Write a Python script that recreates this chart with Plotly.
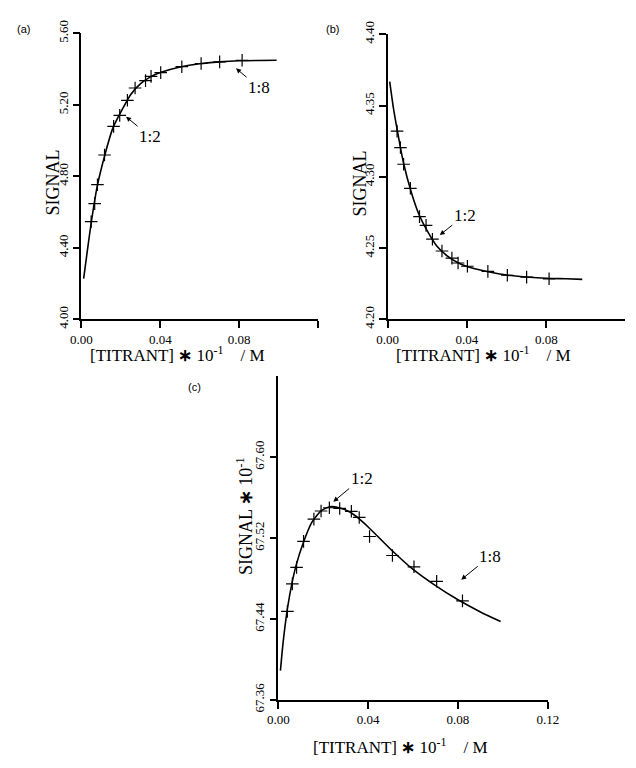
import plotly.graph_objects as go

# ---------------- data ----------------
# Panel (a)
a_x = [0.0049, 0.0067, 0.0081, 0.0117, 0.0163, 0.0194, 0.0233, 0.0272, 0.0325, 0.0353, 0.0402, 0.0509, 0.0607, 0.0701, 0.0815]
a_y = [4.546, 4.647, 4.753, 4.919, 5.079, 5.141, 5.225, 5.294, 5.335, 5.359, 5.380, 5.413, 5.431, 5.440, 5.449]
a_fit_x = [0.0011, 0.003, 0.005, 0.008, 0.012, 0.016, 0.020, 0.025, 0.030, 0.035, 0.040, 0.050, 0.060, 0.070, 0.080, 0.090, 0.099]
a_fit_y = [4.227, 4.385, 4.545, 4.745, 4.925, 5.072, 5.160, 5.258, 5.318, 5.356, 5.380, 5.411, 5.430, 5.440, 5.446, 5.448, 5.449]

# Panel (b)
b_x = [0.0048, 0.0065, 0.0081, 0.0115, 0.0161, 0.0194, 0.0226, 0.0274, 0.0324, 0.0355, 0.0402, 0.0505, 0.0603, 0.0700, 0.0813]
b_y = [4.3320, 4.3205, 4.3088, 4.2919, 4.2720, 4.2659, 4.2562, 4.2479, 4.2429, 4.2395, 4.2372, 4.2336, 4.2309, 4.2296, 4.2284]
b_fit_x = [0.0011, 0.003, 0.005, 0.008, 0.012, 0.016, 0.020, 0.025, 0.030, 0.035, 0.040, 0.050, 0.060, 0.070, 0.080, 0.090, 0.098]
b_fit_y = [4.3668, 4.3480, 4.3320, 4.3100, 4.2890, 4.2730, 4.2620, 4.2510, 4.2445, 4.2400, 4.2370, 4.2335, 4.2310, 4.2297, 4.2288, 4.2284, 4.2280]

# Panel (c)
c_x = [0.0040, 0.0062, 0.0081, 0.0112, 0.0158, 0.0190, 0.0227, 0.0273, 0.0325, 0.0360, 0.0406, 0.0508, 0.0604, 0.0705, 0.0820]
c_y = [67.4476, 67.4747, 67.4910, 67.5168, 67.5388, 67.5468, 67.5500, 67.5493, 67.5465, 67.5404, 67.5216, 67.5028, 67.4916, 67.4773, 67.4579]
c_fit_x = [0.0009, 0.002, 0.004, 0.006, 0.008, 0.011, 0.015, 0.019, 0.023, 0.027, 0.032, 0.036, 0.040, 0.050, 0.060, 0.070, 0.080, 0.090, 0.099]
c_fit_y = [67.389, 67.415, 67.450, 67.475, 67.494, 67.515, 67.536, 67.547, 67.551, 67.550, 67.5455, 67.539, 67.531, 67.509, 67.489, 67.473, 67.459, 67.447, 67.4375]

# tick labels
x_ticks_ab = [0.0, 0.04, 0.08]
x_ticktext_ab = ["0.00", "0.04", "0.08"]
x_ticks_c = [0.0, 0.04, 0.08, 0.12]
x_ticktext_c = ["0.00", "0.04", "0.08", "0.12"]
a_yticks = [4.00, 4.40, 4.80, 5.20, 5.60]
b_yticks = [4.20, 4.25, 4.30, 4.35, 4.40]
c_yticks = [67.36, 67.44, 67.52, 67.60]

W, H = 636, 768
def px(v):
    return v / W
def py(v):
    return 1 - v / H

SERIF = "Liberation Serif"
SANS = "Liberation Sans"

fig = go.Figure()

panels = [
    ("x", "y", a_x, a_y, a_fit_x, a_fit_y),
    ("x2", "y2", b_x, b_y, b_fit_x, b_fit_y),
    ("x3", "y3", c_x, c_y, c_fit_x, c_fit_y),
]
for xa, ya, xs, ys, fx, fy in panels:
    fig.add_trace(go.Scatter(x=fx, y=fy, mode="lines", line=dict(color="black", width=1.6, shape="spline", smoothing=0.6),
                             xaxis=xa, yaxis=ya, showlegend=False, hoverinfo="skip"))
    fig.add_trace(go.Scatter(x=xs, y=ys, mode="markers",
                             marker=dict(symbol="cross-thin", size=9, line=dict(color="black", width=1.2), color="black"),
                             xaxis=xa, yaxis=ya, showlegend=False))

axis_common = dict(showline=True, linecolor="black", linewidth=1.5, ticks="outside", ticklen=7, tickwidth=1.5,
                   tickcolor="black", showgrid=False, zeroline=False,
                   tickfont=dict(family=SERIF, size=13, color="black"))
end_tick = dict(tickvals=[0.12], ticks="outside", ticklen=7, tickwidth=1.5, tickcolor="black", showgrid=False)

fig.update_layout(
    width=W, height=H, margin=dict(l=0, r=0, t=0, b=0),
    paper_bgcolor="white", plot_bgcolor="white",
    xaxis=dict(domain=[px(73), px(318)], range=[0, 0.12], anchor="y", tickvals=x_ticks_ab, ticktext=x_ticktext_ab,
               minor=end_tick, **axis_common),
    yaxis=dict(domain=[py(317), py(21)], range=[4.0, 5.6], anchor="x", tickvals=a_yticks,
               ticktext=["%.2f" % v for v in a_yticks], tickangle=-90, **axis_common),
    xaxis2=dict(domain=[px(390), 1.0], range=[0, 0.1195], anchor="y2", tickvals=x_ticks_ab, ticktext=x_ticktext_ab,
                minor=end_tick, **axis_common),
    yaxis2=dict(domain=[py(317), py(22)], range=[4.2, 4.4], anchor="x2", tickvals=b_yticks,
                ticktext=["%.2f" % v for v in b_yticks], tickangle=-90, **axis_common),
    xaxis3=dict(domain=[px(277), px(556)], range=[0, 0.12], anchor="y3", tickvals=x_ticks_c, ticktext=x_ticktext_c, **axis_common),
    yaxis3=dict(domain=[py(711), py(376)], range=[67.36, 67.68], anchor="x3", tickvals=c_yticks,
                ticktext=["%.2f" % v for v in c_yticks], tickangle=-90, **axis_common),
)

ann = []
xtitle = "[TITRANT] <b>∗</b> 10<sup>-1</sup>&nbsp;&nbsp;&nbsp;&nbsp;/ M"
for (cx, cy) in [(172, 353), (489, 353), (403, 759)]:
    ann.append(dict(text=xtitle, x=px(cx), y=py(cy), xref="paper", yref="paper", showarrow=False,
                    font=dict(family=SERIF, size=17, color="black"), xanchor="center", yanchor="middle"))
for (cx, cy, t) in [(44, 175, "SIGNAL"), (361, 177, "SIGNAL"), (242, 521, "SIGNAL <b>∗</b> 10<sup>-1</sup>")]:
    ann.append(dict(text=t, x=px(cx), y=py(cy), xref="paper", yref="paper", showarrow=False, textangle=-90,
                    font=dict(family=SERIF, size=18, color="black"), xanchor="center", yanchor="middle"))
for (cx, cy, t) in [(13, 17, "(a)"), (333, 17, "(b)"), (190, 387, "(c)")]:
    ann.append(dict(text=t, x=px(cx), y=py(cy), xref="paper", yref="paper", showarrow=False,
                    font=dict(family=SANS, size=11, color="black"), xanchor="center", yanchor="middle"))

# ratio markers: (xref, yref, head_x, head_y, label_x, label_y, label)
ratio_marks = [
    ("x", "y", 0.0226, 5.133, 0.0348, 5.023, "1:2"),
    ("x", "y", 0.0784, 5.404, 0.0901, 5.295, "1:8"),
    ("x2", "y2", 0.0263, 4.2591, 0.0389, 4.2731, "1:2"),
    ("x3", "y3", 0.02446, 67.556, 0.0371, 67.5793, "1:2"),
    ("x3", "y3", 0.08144, 67.4789, 0.0944, 67.5022, "1:8"),
]
for xr, yr, hx, hy, lx, ly, lab in ratio_marks:
    ann.append(dict(text=lab, x=hx, y=hy, ax=lx, ay=ly, xref=xr, yref=yr, axref=xr, ayref=yr,
                    showarrow=True, arrowhead=2, arrowsize=1, arrowwidth=1, arrowcolor="black",
                    font=dict(family=SERIF, size=17, color="black")))

fig.update_layout(annotations=ann)

fig.write_html("out.html", config={"displayModeBar": False},
               post_script="document.body.style.margin='0';document.documentElement.style.overflow='hidden';")
